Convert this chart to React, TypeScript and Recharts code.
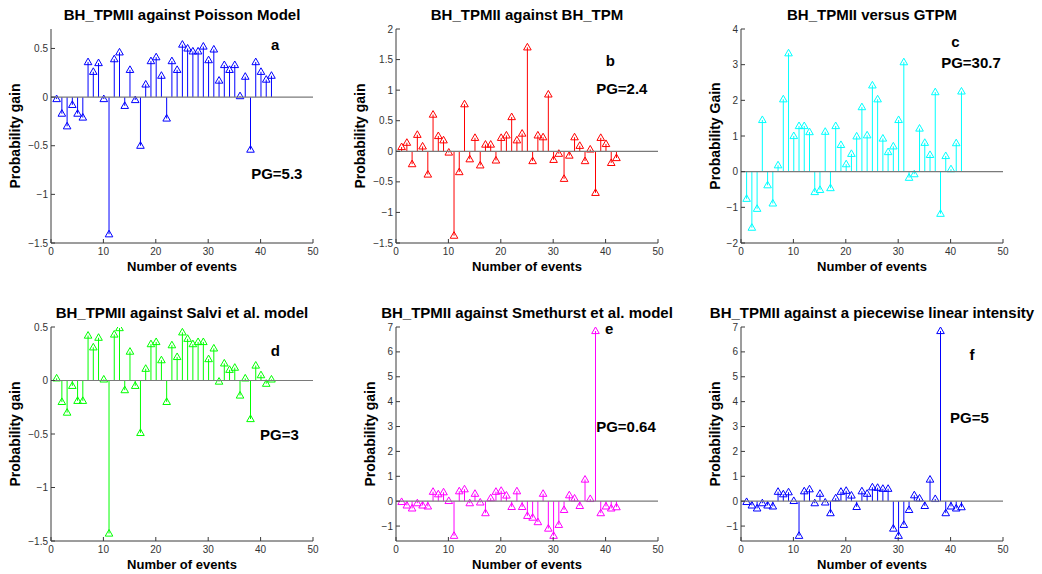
import React from 'react';
import { ComposedChart, Bar, XAxis, YAxis, ReferenceLine, ReferenceDot } from 'recharts';

// event index on the x axis
const EVENTS = [
  1, 2, 3, 4, 5, 6, 7, 8, 9, 10, 11, 12, 13, 14, 15, 16, 17, 18, 19, 20, 21,
  22, 23, 24, 25, 26, 27, 28, 29, 30, 31, 32, 33, 34, 35, 36, 37, 38, 39, 40, 41, 42,
];

// probability gain per event, one list per comparison model
const GAIN_POISSON = [
  -0.02, -0.17, -0.30, -0.08, -0.17, -0.21, 0.36, 0.26, 0.35, -0.02, -1.41, 0.39, 0.46, -0.09,
  0.28, -0.03, -0.50, 0.13, 0.37, 0.41, 0.22, -0.22, 0.37, 0.28, 0.54, 0.50, 0.47, 0.47,
  0.52, 0.38, 0.49, 0.17, 0.33, 0.28, 0.33, 0.01, 0.21, -0.54, 0.36, 0.26, 0.18, 0.22,
];
const GAIN_BH_TPM = [
  0.07, 0.14, -0.21, 0.27, 0.08, -0.38, 0.60, 0.25, 0.18, -0.02, -1.38, -0.34, 0.77, -0.13,
  0.22, -0.23, 0.11, 0.11, -0.15, 0.22, 0.26, 0.56, 0.18, 0.29, 1.70, -0.16, 0.26, 0.23,
  0.93, -0.14, -0.04, -0.45, -0.07, 0.23, 0.09, -0.16, 0.03, -0.68, 0.22, 0.12, -0.19, -0.11,
];
const GAIN_GTPM = [
  -0.76, -1.57, -1.04, 1.45, -0.38, -0.89, 0.18, 2.03, 3.32, 1.0, 1.28, 1.28, 1.11, -0.57,
  -0.51, 1.12, -0.46, 1.28, 0.75, 0.21, 0.50, 0.99, 1.81, 1.02, 2.42, 2.03, 0.93, 0.55,
  0.71, 1.45, 3.07, -0.17, -0.07, 1.21, 0.81, 0.47, 2.23, -1.18, 0.44, 0.07, 0.80, 2.25,
];
const GAIN_SALVI = [
  0.02, -0.20, -0.30, -0.05, -0.19, -0.19, 0.42, 0.31, 0.40, 0.01, -1.43, 0.43, 0.49, -0.09,
  0.27, -0.05, -0.49, 0.11, 0.34, 0.36, 0.19, -0.20, 0.33, 0.22, 0.45, 0.39, 0.34, 0.36,
  0.36, 0.20, 0.30, -0.01, 0.16, 0.10, 0.12, -0.14, 0.02, -0.36, 0.14, 0.05, -0.03, 0.01,
];
const GAIN_SMETHURST = [
  -0.03, -0.17, -0.29, -0.08, -0.17, -0.21, 0.38, 0.28, 0.36, 0.01, -1.39, 0.40, 0.48, -0.08,
  0.30, -0.05, -0.48, 0.12, 0.38, 0.42, 0.23, -0.23, 0.40, -0.23, -0.59, -0.66, -0.84, 0.30,
  -1.10, -1.39, -0.95, -0.35, 0.24, 0.11, -0.19, 0.87, 0.09, 6.84, -0.48, -0.21, -0.29, -0.24,
];
const GAIN_PIECEWISE = [
  -0.03, -0.17, -0.29, -0.08, -0.17, -0.21, 0.38, 0.28, 0.36, 0.01, -1.39, 0.40, 0.48, -0.08,
  0.30, -0.05, -0.48, 0.12, 0.38, 0.42, 0.23, -0.23, 0.40, 0.30, 0.56, 0.54, 0.50, 0.50,
  -1.10, -1.39, -0.95, -0.35, 0.24, 0.11, -0.19, 0.87, 0.09, 6.84, -0.48, -0.21, -0.29, -0.24,
];

const X_TICKS = [0, 10, 20, 30, 40, 50];

const FONT = '"Liberation Sans", Arial, Helvetica, sans-serif';
const AXIS_COLOR = '#3a3a3a';
const PLOT_W = 262;
const PLOT_H = 214;
const PLOT_LEFT = 51;
const Y_AXIS_W = 40;
const X_AXIS_H = 20;

const panels = [
  {
    title: 'BH_TPMII against Poisson Model', ylabel: 'Probability gain', color: '#0000ff',
    values: GAIN_POISSON, domain: [-1.5, 0.7], ticks: [-1.5, -1, -0.5, 0, 0.5],
    letter: 'a', letterAt: [42.8, 0.54], pg: 'PG=5.3', pgAt: [38.2, -0.79],
    col: 0, row: 0, ylabelX: 15,
  },
  {
    title: 'BH_TPMII against BH_TPM', ylabel: 'Probability gain', color: '#ff0000',
    values: GAIN_BH_TPM, domain: [-1.5, 2], ticks: [-1.5, -1, -0.5, 0, 0.5, 1, 1.5, 2],
    letter: 'b', letterAt: [40.9, 1.49], pg: 'PG=2.4', pgAt: [38.2, 1.02],
    col: 1, row: 0, ylabelX: 15,
  },
  {
    title: 'BH_TPMII versus GTPM', ylabel: 'Probability Gain', color: '#00ffff',
    values: GAIN_GTPM, domain: [-2, 4], ticks: [-2, -1, 0, 1, 2, 3, 4],
    letter: 'c', letterAt: [40.9, 3.64], pg: 'PG=30.7', pgAt: [38.2, 3.06],
    col: 2, row: 0, ylabelX: 25,
  },
  {
    title: 'BH_TPMII against Salvi et al. model', ylabel: 'Probability gain', color: '#00ff00',
    values: GAIN_SALVI, domain: [-1.5, 0.5], ticks: [-1.5, -1, -0.5, 0, 0.5],
    letter: 'd', letterAt: [42.8, 0.28], pg: 'PG=3', pgAt: [39.9, -0.51],
    col: 0, row: 1, ylabelX: 15,
  },
  {
    title: 'BH_TPMII against Smethurst et al. model', ylabel: 'Probability gain', color: '#ff00ff',
    values: GAIN_SMETHURST, domain: [-1.6, 7], ticks: [-1, 0, 1, 2, 3, 4, 5, 6, 7],
    letter: 'e', letterAt: [40.7, 6.93], pg: 'PG=0.64', pgAt: [38.2, 3.0],
    col: 1, row: 1, ylabelX: 25,
  },
  {
    title: 'BH_TPMII against a piecewise linear intensity', ylabel: 'Probability gain', color: '#0000ff',
    values: GAIN_PIECEWISE, domain: [-1.6, 7], ticks: [-1, 0, 1, 2, 3, 4, 5, 6, 7],
    letter: 'f', letterAt: [44.1, 5.88], pg: 'PG=5', pgAt: [39.9, 3.36],
    col: 2, row: 1, ylabelX: 25,
  },
];

const ROWS = [
  { top: 0, height: 290, plotTop: 29, titleY: 15, xlabelY: 267 },
  { top: 290, height: 284, plotTop: 37, titleY: 313, xlabelY: 565 },
];

const fmt = (v: number) => (v < 0 ? '\u2212' + Math.abs(v) : String(v));

// stem + open triangle marker, MATLAB stem() style
function makeStem(color: string) {
  return (props: any) => {
    const { x, y, width, height } = props;
    if (x == null || y == null) return null;
    const cx = x + width / 2;
    const base = y + height;
    return (
      <g>
        <line x1={cx} x2={cx} y1={base} y2={y} stroke={color} strokeWidth={1} />
        <path
          d={`M${cx},${y - 4} L${cx + 3.8},${y + 2.6} L${cx - 3.8},${y + 2.6} Z`}
          fill="none"
          stroke={color}
          strokeWidth={1}
        />
      </g>
    );
  };
}

function Panel({ p }: { p: typeof panels[number] }) {
  const row = ROWS[p.row];
  const left = p.col * 345;
  const cw = 345;
  const ch = row.height;
  const data = EVENTS.map((e, i) => ({ event: e, gain: p.values[i] }));
  const margin = {
    top: row.plotTop,
    left: PLOT_LEFT - Y_AXIS_W,
    right: cw - PLOT_LEFT - PLOT_W,
    bottom: ch - row.plotTop - PLOT_H - X_AXIS_H,
  };
  const tickStyle = { fill: '#333', fontSize: 10, fontFamily: FONT };
  const textStyle = { fontFamily: FONT, fontWeight: 'bold', color: '#000' } as const;

  return (
    <>
      <div style={{ position: 'absolute', left, top: row.top }}>
        <ComposedChart width={cw} height={ch} data={data} margin={margin}>
          <XAxis
            xAxisId="b" dataKey="event" type="number" domain={[0, 50]} ticks={X_TICKS}
            height={X_AXIS_H} tickSize={-4} tickMargin={9} tick={tickStyle}
            stroke={AXIS_COLOR} allowDataOverflow interval={0}
          />
          <XAxis
            xAxisId="t" orientation="top" dataKey="event" type="number" domain={[0, 50]}
            ticks={X_TICKS} height={0} tickSize={-4} tick={false} stroke={AXIS_COLOR}
          />
          <YAxis
            yAxisId="l" type="number" domain={p.domain} ticks={p.ticks} width={Y_AXIS_W}
            tickSize={-4} tickMargin={7} tick={tickStyle} tickFormatter={fmt}
            stroke={AXIS_COLOR} allowDataOverflow interval={0}
          />
          <YAxis
            yAxisId="r" orientation="right" type="number" domain={p.domain} ticks={p.ticks}
            width={0} tickSize={-4} tick={false} stroke={AXIS_COLOR}
          />
          <ReferenceLine xAxisId="b" yAxisId="l" y={0} stroke="#7a7a7a" strokeWidth={1.2} />
          <Bar
            xAxisId="b" yAxisId="l" dataKey="gain" barSize={2}
            shape={makeStem(p.color)} isAnimationActive={false}
          />
          <ReferenceDot
            xAxisId="b" yAxisId="l" x={p.letterAt[0]} y={p.letterAt[1]} r={0}
            label={{ value: p.letter, position: 'center', fill: '#000', fontSize: 15, fontWeight: 'bold', fontFamily: FONT }}
          />
          <ReferenceDot
            xAxisId="b" yAxisId="l" x={p.pgAt[0]} y={p.pgAt[1]} r={0}
            label={{ value: p.pg, position: 'right', offset: 0, fill: '#000', fontSize: 15, fontWeight: 'bold', fontFamily: FONT }}
          />
        </ComposedChart>
      </div>
      <div
        style={{
          ...textStyle, fontSize: 15, position: 'absolute', left: left + PLOT_LEFT - 60, width: PLOT_W + 120,
          top: row.titleY - 9, height: 18, lineHeight: '18px', textAlign: 'center', whiteSpace: 'nowrap',
        }}
      >
        {p.title}
      </div>
      <div
        style={{
          ...textStyle, fontSize: 13, position: 'absolute', left: left + PLOT_LEFT, width: PLOT_W,
          top: row.xlabelY - 8, height: 16, lineHeight: '16px', textAlign: 'center',
        }}
      >
        Number of events
      </div>
      <div
        style={{
          ...textStyle, fontSize: 14, position: 'absolute', left: left + p.ylabelX, top: row.top + row.plotTop + PLOT_H / 2,
          width: 160, height: 16, lineHeight: '16px', textAlign: 'center',
          transform: 'translate(-50%, -50%) rotate(-90deg)', whiteSpace: 'nowrap',
        }}
      >
        {p.ylabel}
      </div>
    </>
  );
}

export default function App() {
  return (
    <div style={{ position: 'absolute', left: 0, top: 0, width: 1042, height: 574, background: '#fff', overflow: 'hidden' }}>
      {panels.map((p) => (
        <Panel key={p.letter} p={p} />
      ))}
    </div>
  );
}
